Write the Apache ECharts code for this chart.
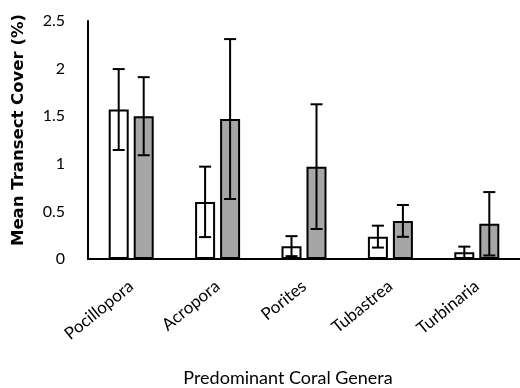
<!DOCTYPE html>
<html lang="en">
<head>
<meta charset="UTF-8">
<title>Mean Transect Cover</title>
<script src="https://cdn.jsdelivr.net/npm/echarts@6/dist/echarts.min.js"></script>
<style>
    html, body { margin: 0; padding: 0; background: #fff; }
    #chart { width: 520px; height: 388px; }
</style>
</head>
<body>
<div id="chart"></div>
<script>
    // data
    var genera = ['Pocillopora', 'Acropora', 'Porites', 'Tubastrea', 'Turbinaria'];
    var whiteMeans = [1.57, 0.60, 0.135, 0.235, 0.07];
    var whiteErrors = [0.425, 0.37, 0.105, 0.115, 0.06];
    var greyMeans = [1.50, 1.47, 0.97, 0.40, 0.37];
    var greyErrors = [0.41, 0.84, 0.655, 0.167, 0.333];
    var yTicks = [0, 0.5, 1, 1.5, 2, 2.5];

    var fontFamily = 'Lato, "Noto Sans", sans-serif',
        titleFont = '"DejaVu Sans", "Open Sans", sans-serif',
        barWidth = 20,
        barGapPx = 5,
        capHalf = 6;

    function errorSeries(means, errors, side) {
        var data = means.map(function (m, i) { return [i, m, errors[i]]; });
        return {
            type: 'custom',
            z: 5,
            silent: true,
            data: data,
            encode: { x: 0, y: 1 },
            renderItem: function (params, api) {
                var off = side * (barWidth + barGapPx) / 2;
                var hi = api.coord([api.value(0), api.value(1) + api.value(2)]);
                var lo = api.coord([api.value(0), Math.max(0, api.value(1) - api.value(2))]);
                var x = hi[0] + off;
                var style = { stroke: '#000', lineWidth: 2 };
                return {
                    type: 'group',
                    children: [
                        { type: 'line', shape: { x1: x, y1: hi[1], x2: x, y2: lo[1] }, style: style },
                        { type: 'line', shape: { x1: x - capHalf, y1: hi[1], x2: x + capHalf, y2: hi[1] }, style: style },
                        { type: 'line', shape: { x1: x - capHalf, y1: lo[1], x2: x + capHalf, y2: lo[1] }, style: style }
                    ]
                };
            }
        };
    }

    var option = {
        backgroundColor: '#fff',
        animation: false,
        textStyle: { fontFamily: fontFamily, color: '#000' },
        grid: { left: 88, right: -14, top: 21, bottom: 129 },
        xAxis: {
            type: 'category',
            data: genera,
            axisLine: { lineStyle: { color: '#000', width: 2 } },
            axisTick: { show: false },
            axisLabel: { rotate: 39, margin: 25, fontSize: 17, color: '#000', fontFamily: fontFamily }
        },
        yAxis: {
            type: 'value',
            min: yTicks[0],
            max: yTicks[yTicks.length - 1],
            interval: yTicks[1] - yTicks[0],
            axisLine: { show: true, lineStyle: { color: '#000', width: 2 } },
            axisTick: { show: false },
            splitLine: { show: false },
            axisLabel: { margin: 23, fontSize: 16, color: '#000', fontFamily: fontFamily }
        },
        graphic: [
            {
                type: 'text',
                x: 288, y: 378,
                style: {
                    text: 'Predominant Coral Genera', fontSize: 18, fontFamily: fontFamily, fill: '#000',
                    align: 'center', verticalAlign: 'middle'
                }
            },
            {
                type: 'text',
                x: 19, y: 130,
                rotation: Math.PI / 2,
                style: {
                    text: 'Mean Transect Cover (%)', fontSize: 16.5, fontWeight: 'bold',
                    fontFamily: titleFont, fill: '#000', align: 'center', verticalAlign: 'middle'
                }
            }
        ],
        series: [
            {
                type: 'bar',
                data: whiteMeans,
                barWidth: barWidth,
                barGap: (barGapPx / barWidth * 100) + '%',
                itemStyle: { color: '#fff', borderColor: '#000', borderWidth: 2 }
            },
            {
                type: 'bar',
                data: greyMeans,
                barWidth: barWidth,
                itemStyle: { color: '#a6a6a6', borderColor: '#000', borderWidth: 2 }
            },
            errorSeries(whiteMeans, whiteErrors, -1),
            errorSeries(greyMeans, greyErrors, 1)
        ]
    };

    var chart = echarts.init(document.getElementById('chart'));
    chart.setOption(option, true);
</script>
</body>
</html>
